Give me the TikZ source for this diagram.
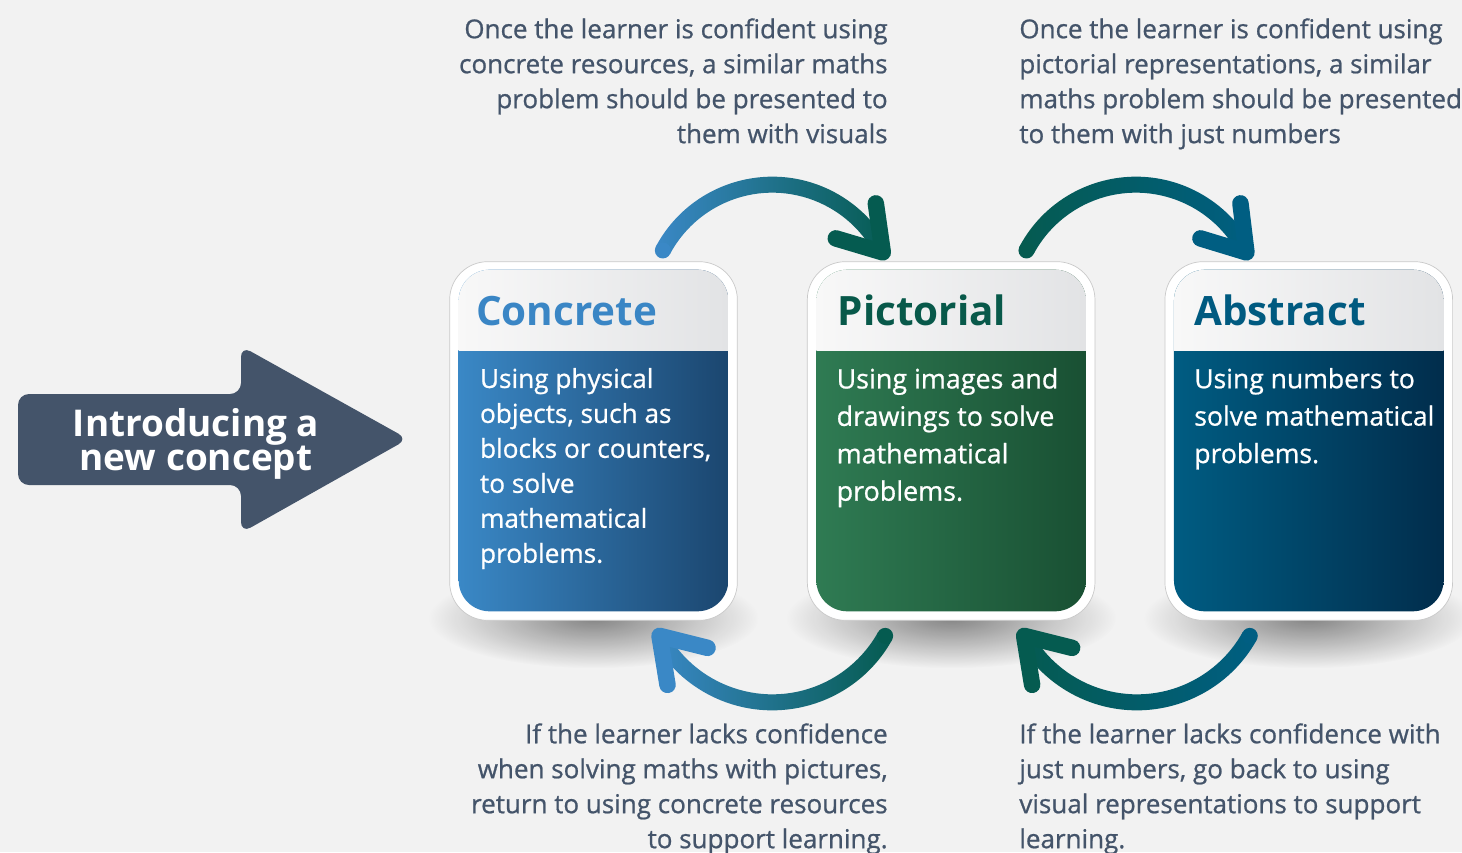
\documentclass[tikz,border=0pt]{standalone}
\usepackage{fontspec}
\setmainfont{Open Sans}
\newfontfamily\medfont[FakeBold=0.8]{Open Sans}
\usepackage{tikz}
\usetikzlibrary{calc,positioning,fadings}

\definecolor{bgcol}{HTML}{F2F2F2}
\definecolor{slate}{HTML}{44546A}
\definecolor{cardline}{HTML}{C9C9C9}
\definecolor{hdL}{HTML}{F8F8F8}
\definecolor{hdR}{HTML}{E2E3E5}
\definecolor{cblue}{HTML}{3A88C6}
\definecolor{tealdk}{HTML}{055B50}
\definecolor{abblue}{HTML}{005E82}
\definecolor{concL}{HTML}{3A88C6}
\definecolor{concR}{HTML}{1B466F}
\definecolor{pictL}{HTML}{2F7B53}
\definecolor{pictR}{HTML}{195033}
\definecolor{abstL}{HTML}{005C82}
\definecolor{abstR}{HTML}{012D4C}
\definecolor{concT}{HTML}{3A86C5}
\definecolor{pictT}{HTML}{08594A}
\definecolor{abstT}{HTML}{005A80}

\tikzfading[name=shadowfade, inner color=transparent!55, outer color=transparent!100]

\tikzset{
  cardbox/.style={minimum width=5.74cm, minimum height=7.16cm, inner sep=0pt},
  cardshadow/.style={fill=black, path fading=shadowfade},
  cardtitle/.style={anchor=base west, inner sep=0pt, font=\fontsize{23}{26}\selectfont\bfseries},
  cardtext/.style={anchor=north west, inner sep=0pt, align=left, text=white, font=\medfont\fontsize{14.9}{19.9}\selectfont},
  caption/.style={inner sep=0pt, text=slate, font=\medfont\fontsize{14.8}{19.9}\selectfont},
  chevron/.style={line width=0.33cm, line cap=round, line join=round}
}

\begin{document}
\begin{tikzpicture}[x=0.02cm, y=-0.02cm]
  \useasboundingbox (0,0) rectangle (1462,852);
  \fill[bgcol] (0,0) rectangle (1462,852);

  % the three cards
  \path node[cardbox] (conc) at (593.5,441) {};
  \path node[cardbox, right=1.40cm of conc] (pict) {};
  \path node[cardbox, right=1.40cm of pict] (abst) {};

  % shadows
  \fill[cardshadow] ($(conc.south)+(0,-2)$) ellipse [x radius=165, y radius=50];
  \fill[cardshadow] ($(pict.south)+(0,-2)$) ellipse [x radius=165, y radius=50];
  \fill[cardshadow] ($(abst.south)+(0,-2)$) ellipse [x radius=165, y radius=50];

  % Concrete
  \filldraw[fill=white, draw=cardline, rounded corners=0.76cm] (conc.north west) rectangle (conc.south east);
  \begin{scope}
    \clip[rounded corners=0.62cm] ($(conc.north west)+(9,8)$) rectangle ($(conc.south east)+(-9,-9)$);
    \shade[left color=concL, right color=concR] ($(conc.north west)+(9,8)$) rectangle ($(conc.south east)+(-9,-9)$);
    \shade[left color=hdL, right color=hdR] ($(conc.north west)+(9,8)$) rectangle ($(conc.north east)+(-9,89)$);
  \end{scope}
  \node[cardtitle, text=concT] (concName) at ($(conc.north west)+(26,64)$) {Concrete};
  \node[cardtext] (concText) at ($(conc.north west)+(30,106)$) {Using physical\\objects, such as\\blocks or counters,\\to solve\\mathematical\\problems.};

  % Pictorial
  \filldraw[fill=white, draw=cardline, rounded corners=0.76cm] (pict.north west) rectangle (pict.south east);
  \begin{scope}
    \clip[rounded corners=0.62cm] ($(pict.north west)+(9,8)$) rectangle ($(pict.south east)+(-9,-9)$);
    \shade[left color=pictL, right color=pictR] ($(pict.north west)+(9,8)$) rectangle ($(pict.south east)+(-9,-9)$);
    \shade[left color=hdL, right color=hdR] ($(pict.north west)+(9,8)$) rectangle ($(pict.north east)+(-9,89)$);
  \end{scope}
  \node[cardtitle, text=pictT] (pictName) at ($(pict.north west)+(30,64)$) {Pictorial};
  \node[cardtext, font=\medfont\fontsize{15.3}{21.3}\selectfont] (pictText) at ($(pict.north west)+(29,106)$) {Using images and\\drawings to solve\\mathematical\\problems.};

  % Abstract
  \filldraw[fill=white, draw=cardline, rounded corners=0.76cm] (abst.north west) rectangle (abst.south east);
  \begin{scope}
    \clip[rounded corners=0.62cm] ($(abst.north west)+(9,8)$) rectangle ($(abst.south east)+(-9,-9)$);
    \shade[left color=abstL, right color=abstR] ($(abst.north west)+(9,8)$) rectangle ($(abst.south east)+(-9,-9)$);
    \shade[left color=hdL, right color=hdR] ($(abst.north west)+(9,8)$) rectangle ($(abst.north east)+(-9,89)$);
  \end{scope}
  \node[cardtitle, text=abstT] (abstName) at ($(abst.north west)+(29,64)$) {Abstract};
  \node[cardtext, font=\medfont\fontsize{15.1}{21.3}\selectfont] (abstText) at ($(abst.north west)+(29,106)$) {Using numbers to\\solve mathematical\\problems.};

  % introducing arrow
  \fill[slate, rounded corners=0.22cm] (18,394) -- (241,394) -- (241,346) -- (408,439) -- (241,533) -- (241,485) -- (18,485) -- cycle;
  \node[text=white, align=center, font=\fontsize{21}{19.4}\selectfont\bfseries] (intro) at (196,444) {Introducing a\\new concept};

  % curved arrows, top
  \coordinate (ctrA) at ($(conc.north)!0.5!(pict.north)+(0,47)$);
  \shade[left color=cblue, right color=tealdk] ($(ctrA)+(208:132)$) arc[start angle=208, end angle=333, radius=132] -- ($(ctrA)+(333:116)$) arc[start angle=333, end angle=208, radius=116] -- cycle;
  \fill[cblue] ($(ctrA)+(208:124)$) circle[radius=8];
  \draw[chevron, tealdk] ($(ctrA)+(333:124)+(-7,-49)$) -- ($(ctrA)+(333:124)$) -- ($(ctrA)+(333:124)+(-47,-14)$);

  \coordinate (ctrB) at ($(pict.north)!0.5!(abst.north)+(6,47)$);
  \shade[left color=tealdk, right color=abblue] ($(ctrB)+(208:132)$) arc[start angle=208, end angle=333, radius=132] -- ($(ctrB)+(333:116)$) arc[start angle=333, end angle=208, radius=116] -- cycle;
  \fill[tealdk] ($(ctrB)+(208:124)$) circle[radius=8];
  \draw[chevron, abblue] ($(ctrB)+(333:124)+(-6,-49)$) -- ($(ctrB)+(333:124)$) -- ($(ctrB)+(333:124)+(-46,-14)$);

  % curved arrows, bottom
  \coordinate (ctrC) at ($(conc.south)!0.5!(pict.south)+(0,-47)$);
  \shade[left color=cblue, right color=tealdk] ($(ctrC)+(29:137)$) arc[start angle=29, end angle=151, radius=137] -- ($(ctrC)+(151:121)$) arc[start angle=151, end angle=29, radius=121] -- cycle;
  \fill[tealdk] ($(ctrC)+(29:129)$) circle[radius=8];
  \draw[chevron, cblue] ($(ctrC)+(151:129)+(48,12)$) -- ($(ctrC)+(151:129)$) -- ($(ctrC)+(151:129)+(8,49)$);

  \coordinate (ctrD) at ($(pict.south)!0.5!(abst.south)+(7,-47)$);
  \shade[left color=tealdk, right color=abblue] ($(ctrD)+(29:137)$) arc[start angle=29, end angle=151, radius=137] -- ($(ctrD)+(151:121)$) arc[start angle=151, end angle=29, radius=121] -- cycle;
  \fill[abblue] ($(ctrD)+(29:129)$) circle[radius=8];
  \draw[chevron, tealdk] ($(ctrD)+(151:129)+(48,12)$) -- ($(ctrD)+(151:129)$) -- ($(ctrD)+(151:129)+(8,49)$);

  % captions
  \node[caption, anchor=north east, align=right] (capTL) at (888,18) {Once the learner is confident using\\concrete resources, a similar maths\\problem should be presented to\\them with visuals};
  \node[caption, anchor=north west, align=left] (capTR) at (1019,18) {Once the learner is confident using\\pictorial representations, a similar\\maths problem should be presented\\to them with just numbers};
  \node[caption, anchor=north east, align=right] (capBL) at (888,723) {If the learner lacks confidence\\when solving maths with pictures,\\return to using concrete resources\\to support learning.};
  \node[caption, anchor=north west, align=left] (capBR) at (1019,723) {If the learner lacks confidence with\\just numbers, go back to using\\visual representations to support\\learning.};
\end{tikzpicture}
\end{document}
